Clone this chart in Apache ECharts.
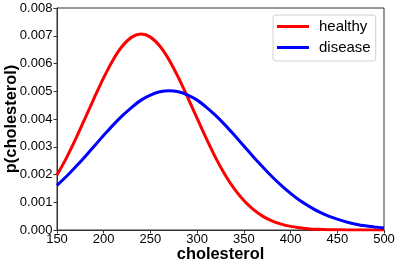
<!DOCTYPE html>
<html><head><meta charset="utf-8">
<script src="https://cdn.jsdelivr.net/npm/echarts@6/dist/echarts.min.js"></script>
<style>html,body{margin:0;padding:0;background:#fff}#c{width:399px;height:267px}</style>
</head><body><div id="c"></div>
<script>
var xValues = [150,160,170,180,190,200,210,220,230,240,250,260,270,280,290,300,310,320,330,340,350,360,370,380,390,400,410,420,430,440,450,460,470,480,490,500];
var healthy = [0.00198,0.00259,0.00328,0.00402,0.00477,0.00549,0.00613,0.00663,0.00695,0.00706,0.00695,0.00663,0.00613,0.00549,0.00477,0.00402,0.00328,0.00259,0.00198,0.00147,0.00106,0.00074,0.00050,0.00033,0.00021,0.00013,0.00008,0.00004,0.000025,0.000013,0.000007,0.000003,0.000002,0.000001,0,0];
var disease = [0.00161,0.00193,0.00228,0.00264,0.00303,0.00341,0.00378,0.00412,0.00442,0.00468,0.00486,0.00498,0.00502,0.00498,0.00486,0.00468,0.00442,0.00412,0.00378,0.00341,0.00303,0.00264,0.00228,0.00193,0.00161,0.00132,0.00106,0.00085,0.00066,0.00051,0.00039,0.00029,0.00021,0.00015,0.00011,0.000076];
var seriesNames = ['healthy','disease'];
var xTicks = [150,500,50];
var yTicks = [0,0.008,0.001];

function pairs(ys){ return xValues.map(function(x,i){ return [x, ys[i]]; }); }
var font = 'Liberation Sans, Arial, sans-serif';
var chart = echarts.init(document.getElementById('c'), null, {renderer:'canvas'});
chart.setOption({
  animation:false,
  backgroundColor:'#fff',
  grid:{left:57,right:15,top:8,bottom:37,containLabel:false,outerBoundsMode:'none',show:true,borderColor:'#333',borderWidth:1,backgroundColor:'transparent'},
  legend:{
    orient:'vertical', left:273, top:15,
    padding:[3,5,5,4], itemGap:4, itemWidth:32, itemHeight:3,
    backgroundColor:'#fff', borderColor:'#d0d0d0', borderWidth:1, borderRadius:3,
    icon:'rect',
    textStyle:{fontFamily:font,fontSize:15,color:'#000',lineHeight:17,padding:[0,0,0,5]},
    data:seriesNames
  },
  xAxis:{
    type:'value', min:xTicks[0], max:xTicks[1], interval:xTicks[2],
    name:'cholesterol', nameLocation:'middle', nameGap:16, nameMoveOverlap:false,
    nameTextStyle:{fontFamily:font,fontSize:16.4,fontWeight:'bold',color:'#000'},
    axisLine:{show:true,onZero:false,lineStyle:{color:'#333',width:1}},
    axisTick:{show:true,inside:false,length:3.5,lineStyle:{color:'#333'}},
    axisLabel:{fontFamily:font,fontSize:13,color:'#000',margin:3},
    splitLine:{show:false}
  },
  yAxis:{
    type:'value', min:yTicks[0], max:yTicks[1], interval:yTicks[2],
    name:'p(cholesterol)', nameLocation:'middle', nameGap:38, nameRotate:90, nameMoveOverlap:false,
    nameTextStyle:{fontFamily:font,fontSize:16.4,fontWeight:'bold',color:'#000'},
    axisLine:{show:true,lineStyle:{color:'#333',width:1}},
    axisTick:{show:true,inside:false,length:3.5,lineStyle:{color:'#333'}},
    axisLabel:{fontFamily:font,fontSize:13,color:'#000',margin:4.6,formatter:function(v){return v.toFixed(3);}},
    splitLine:{show:false}
  },
  series:[
    {name:seriesNames[0],type:'line',data:pairs(healthy),smooth:0.3,showSymbol:false,color:'#ff0000',lineStyle:{width:3,color:'#ff0000'},clip:true},
    {name:seriesNames[1],type:'line',data:pairs(disease),smooth:0.3,showSymbol:false,color:'#0000ff',lineStyle:{width:3,color:'#0000ff'},clip:true}
  ]
});
</script></body></html>
